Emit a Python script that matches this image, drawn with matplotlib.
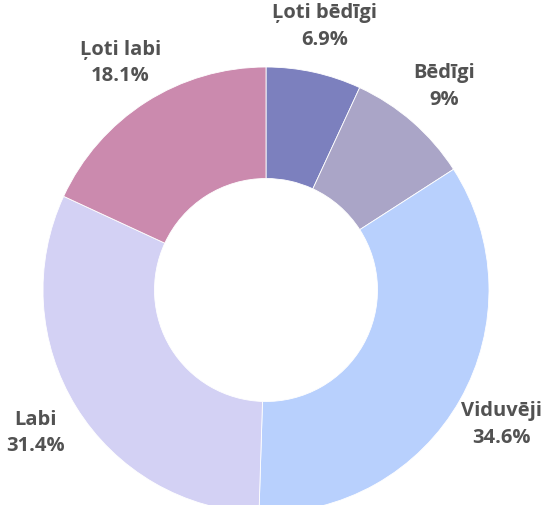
import numpy as np
import matplotlib
matplotlib.use('Agg')
import matplotlib.pyplot as plt

# Data (clockwise from top)
labels = ['Ļoti bēdīgi', 'Bēdīgi', 'Viduvēji', 'Labi', 'Ļoti labi']
values = [6.9, 9.0, 34.6, 31.4, 18.1]
pct_txt = ['6.9%', '9%', '34.6%', '31.4%', '18.1%']
colors = ['#7c80be', '#aaa5c7', '#b8d0fd', '#d3d1f4', '#cb8aae']

W, H = 557, 506
cx, cy, R = 266, 291, 223   # pie centre / radius in pixels

fig = plt.figure(figsize=(W/100, H/100), dpi=100)
ax = fig.add_axes([0, 0, 1, 1])
ax.axis('off')

wedges, _ = ax.pie(values, colors=colors, startangle=90, counterclock=False,
                   radius=1.0, wedgeprops=dict(width=0.5, edgecolor='white', linewidth=0.6))

# labels at mid angle
vals = np.array(values)
cum = np.cumsum(vals) - vals/2
ang = np.deg2rad(90 - 360*cum/vals.sum())
dist = 1.215
for a, lab, p in zip(ang, labels, pct_txt):
	ax.text(dist*np.cos(a), dist*np.sin(a), lab + '\n' + p, ha='center', va='center',
	        fontsize=14.5, fontweight='bold', family='Open Sans', color='#525252',
	        linespacing=1.42)

ax.set_xlim(-cx/R, (W-cx)/R)
ax.set_ylim(-(H-cy)/R, cy/R)
ax.set_aspect('auto')

fig.savefig('out.png', dpi=100, facecolor='white')
